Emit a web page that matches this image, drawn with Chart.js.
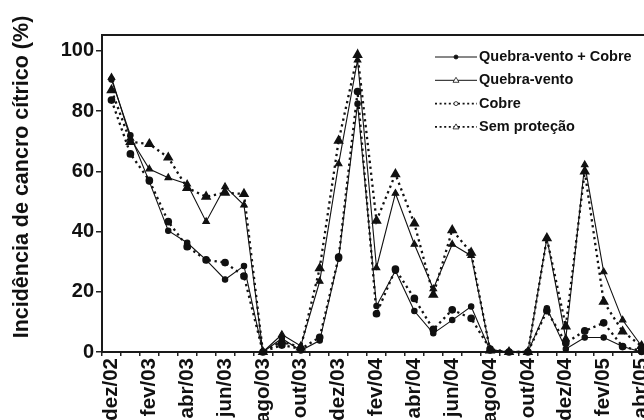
<!DOCTYPE html>
<html>
<head>
<meta charset="utf-8">
<script src="https://cdn.jsdelivr.net/npm/chart.js@4.4.1/dist/chart.umd.min.js"></script>
<style>
html, body { margin: 0; padding: 0; background: #fff; overflow: hidden; }
#wrap { position: relative; width: 680px; height: 420px; }
</style>
</head>
<body>
<div id="wrap"><canvas id="chart"></canvas></div>
<script>
const months = ['dez/02', 'jan/03', 'fev/03', 'mar/03', 'abr/03', 'mai/03', 'jun/03', 'jul/03',
    'ago/03', 'set/03', 'out/03', 'nov/03', 'dez/03', 'jan/04', 'fev/04', 'mar/04', 'abr/04',
    'mai/04', 'jun/04', 'jul/04', 'ago/04', 'set/04', 'out/04', 'nov/04', 'dez/04', 'jan/05',
    'fev/05', 'mar/05', 'abr/05'];

const quebraVentoCobre = [90.5, 72, 56.6, 40.3, 36.3, 30.6, 24.1, 28.6, 0, 4.5, 0.5, 3.8, 31, 82.5,
    15.3, 27, 13.6, 6.2, 10.6, 15.1, 0.5, 0, 0, 14.5, 1, 4.8, 4.8, 1.8, 0];
const quebraVento = [91.2, 71, 60.8, 57.9, 55.8, 43.3, 54.9, 48.8, 0, 5.8, 2, 23.5, 62.5, 97,
    28, 52.7, 35.8, 21, 35.8, 32, 0.8, 0, 0, 37.8, 4.5, 62.2, 26.6, 10.6, 2];
const cobre = [83.7, 65.8, 57, 43.3, 35, 30.6, 29.7, 25.2, 0, 2.3, 1, 4.9, 31.5, 86.5,
    12.7, 27.5, 17.8, 7.5, 14, 11.2, 1, 0, 0, 13.7, 3, 7, 9.7, 1.8, 0.3];
const semProtecao = [87, 69.8, 69.1, 64.6, 54.5, 51.6, 52.9, 52.5, 0, 3.5, 1.5, 27.8, 70.2, 98.7,
    43.6, 59.1, 42.7, 19, 40.5, 33, 0.5, 0, 0, 37.8, 8.5, 60, 16.7, 6.8, 2];

const yTicks = [0, 20, 40, 60, 80, 100];
const yTitle = 'Incidência de cancro cítrico (%)';

const FONT = '"Liberation Sans", Arial, sans-serif';
const INK = '#111';

// moldura do gráfico
const framePlugin = {
    id: 'frame',
    beforeDatasetsDraw(chart) {
        const { ctx, chartArea: a } = chart;
        ctx.save();
        ctx.strokeStyle = '#1a1a1a';
        ctx.lineWidth = 2;
        ctx.strokeRect(a.left, a.top, a.right - a.left, a.bottom - a.top);
        ctx.restore();
    }
};

// título do eixo y
const yTitlePlugin = {
    id: 'yTitle',
    afterDraw(chart) {
        const ctx = chart.ctx;
        ctx.save();
        ctx.translate(22, 177);
        ctx.rotate(-Math.PI / 2);
        ctx.font = 'bold 21.5px ' + FONT;
        ctx.fillStyle = INK;
        ctx.textAlign = 'center';
        ctx.textBaseline = 'middle';
        ctx.fillText(yTitle, 0, 0);
        ctx.restore();
    }
};

// legenda dentro da área do gráfico
const legendPlugin = {
    id: 'insetLegend',
    afterDatasetsDraw(chart) {
        const ctx = chart.ctx;
        ctx.save();
        ctx.font = 'bold 14.5px ' + FONT;
        ctx.textBaseline = 'middle';
        chart.data.datasets.forEach((ds, i) => {
            const y = 57 + i * 23.3;
            const x0 = 435, x1 = 477, mx = 456;
            ctx.strokeStyle = INK;
            ctx.lineWidth = ds.borderDash ? 1.8 : 1;
            ctx.setLineDash(ds.borderDash ? [2, 2.6] : []);
            ctx.beginPath();
            ctx.moveTo(x0, y);
            ctx.lineTo(x1, y);
            ctx.stroke();
            ctx.setLineDash([]);
            ctx.lineWidth = 0.8;
            ctx.beginPath();
            if (ds.pointStyle === 'triangle') {
                ctx.moveTo(mx, y - 3);
                ctx.lineTo(mx + 3, y + 2);
                ctx.lineTo(mx - 3, y + 2);
                ctx.closePath();
            } else {
                ctx.arc(mx, y, 2, 0, Math.PI * 2);
            }
            ctx.fillStyle = ds.legendFilled ? INK : '#fff';
            ctx.fill();
            ctx.stroke();
            ctx.fillStyle = INK;
            ctx.fillText(ds.label, 479, y);
        });
        ctx.restore();
    }
};

const solid = { borderColor: INK, borderWidth: 1.1, pointBackgroundColor: INK, pointBorderColor: INK };
const dotted = { borderColor: INK, borderWidth: 2.3, borderDash: [2.3, 3.7], borderCapStyle: 'butt',
    pointBackgroundColor: INK, pointBorderColor: INK };

new Chart(document.getElementById('chart'), {
    type: 'line',
    data: {
        labels: months,
        datasets: [
            { label: 'Quebra-vento + Cobre', data: quebraVentoCobre, ...solid,
              pointStyle: 'circle', pointRadius: 2.7, legendFilled: true },
            { label: 'Quebra-vento', data: quebraVento, ...solid,
              pointStyle: 'triangle', pointRadius: 3.8 },
            { label: 'Cobre', data: cobre, ...dotted,
              pointStyle: 'circle', pointRadius: 2.7 },
            { label: 'Sem proteção', data: semProtecao, ...dotted,
              pointStyle: 'triangle', pointRadius: 3.8 }
        ]
    },
    options: {
        responsive: true,
        maintainAspectRatio: false,
        animation: false,
        clip: false,
        layout: { padding: { top: 35, right: 29, left: 0, bottom: 0 } },
        elements: { line: { tension: 0 } },
        plugins: {
            legend: { display: false },
            tooltip: { enabled: false }
        },
        scales: {
            x: {
                type: 'category',
                offset: true,
                border: { display: false },
                grid: {
                    offset: true,
                    drawOnChartArea: false,
                    drawTicks: true,
                    tickLength: 4,
                    color: '#222',
                    lineWidth: 1.5
                },
                ticks: {
                    autoSkip: false,
                    minRotation: 90,
                    maxRotation: 90,
                    padding: 2,
                    color: INK,
                    font: { family: FONT, size: 20.5, weight: 'bold' },
                    callback: function (value, index) {
                        return index % 2 === 0 ? months[index] : '';
                    }
                },
                afterFit: scale => { scale.height = 68; }
            },
            y: {
                min: 0,
                max: 105.3,
                border: { display: false },
                grid: {
                    drawOnChartArea: false,
                    drawTicks: true,
                    tickLength: 6,
                    color: '#222',
                    lineWidth: 1.5
                },
                afterBuildTicks: scale => { scale.ticks = yTicks.map(v => ({ value: v })); },
                ticks: {
                    padding: 2,
                    color: INK,
                    font: { family: FONT, size: 20, weight: 'bold' }
                },
                afterFit: scale => { scale.width = 102; }
            }
        }
    },
    plugins: [framePlugin, yTitlePlugin, legendPlugin]
});
</script>
</body>
</html>
